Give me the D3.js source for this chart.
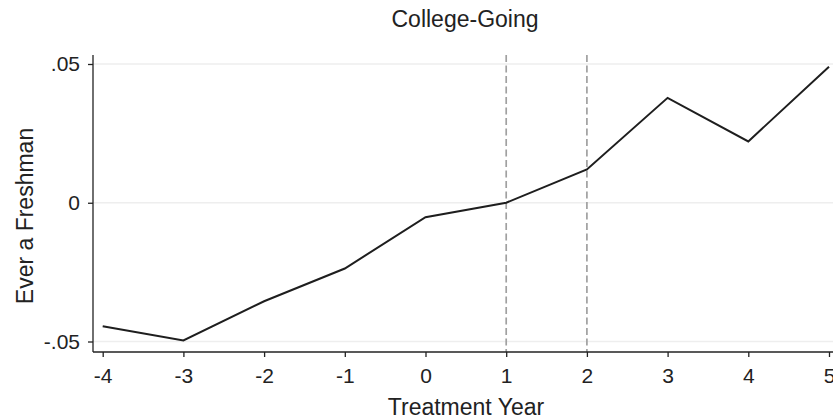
<!DOCTYPE html>
<html>
<head>
<meta charset="utf-8">
<script src="https://cdn.jsdelivr.net/npm/d3@7"></script>
<style>
  html, body { margin: 0; padding: 0; background: #fff; }
  svg { display: block; font-family: "Liberation Sans", Arial, Helvetica, sans-serif; }
</style>
</head>
<body>
<svg id="chart" width="833" height="420"></svg>
<script>
// Event-study estimates by year relative to treatment
const years = [-4, -3, -2, -1, 0, 1, 2, 3, 4, 5];
const estimates = [-0.0445, -0.0496, -0.0355, -0.0237, -0.0052, 0.0, 0.0120, 0.0378, 0.0221, 0.0490];
const xTicks = [-4, -3, -2, -1, 0, 1, 2, 3, 4, 5];
const yTicks = [-0.05, 0, 0.05];
const yTickLabels = ["-.05", "0", ".05"];
const markerYears = [1, 2];

const title = "College-Going";
const xTitle = "Treatment Year";
const yTitle = "Ever a Freshman";

const svg = d3.select("#chart");

const plotLeft = 93, plotRight = 833, plotTop = 55, plotBottom = 352;

const x = d3.scaleLinear().domain([-4, 5]).range([102.7, 829]);
const y = d3.scaleLinear().domain([-0.05, 0.05]).range([341.5, 64]);

// horizontal grid
svg.append("g")
  .selectAll("line")
  .data(yTicks)
  .join("line")
  .attr("x1", plotLeft).attr("x2", plotRight)
  .attr("y1", d => y(d)).attr("y2", d => y(d))
  .attr("stroke", "#eeeeee")
  .attr("stroke-width", 1.5);

// vertical reference lines
svg.append("g")
  .selectAll("line")
  .data(markerYears)
  .join("line")
  .attr("x1", d => x(d)).attr("x2", d => x(d))
  .attr("y1", plotTop).attr("y2", plotBottom)
  .attr("stroke", "#a0a0a0")
  .attr("stroke-width", 1.7)
  .attr("stroke-dasharray", "7,3.5");

// axes
const yAxis = d3.axisLeft(y)
  .tickValues(yTicks)
  .tickFormat((d, i) => yTickLabels[i])
  .tickSize(5)
  .tickPadding(8);
const gy = svg.append("g").attr("transform", `translate(${plotLeft},0)`).call(yAxis);
gy.select(".domain").attr("d", `M0,${plotTop}V${plotBottom}`);

const xAxis = d3.axisBottom(x)
  .tickValues(xTicks)
  .tickFormat(d => String(d))
  .tickSize(5)
  .tickPadding(11);
const gx = svg.append("g").attr("transform", `translate(0,${plotBottom})`).call(xAxis);
gx.select(".domain").attr("d", `M${plotLeft},0H${plotRight}`);

[gx, gy].forEach(g => {
  g.selectAll(".domain").attr("stroke", "#222").attr("stroke-width", 1.3);
  g.selectAll(".tick line").attr("stroke", "#222").attr("stroke-width", 1.3);
  g.selectAll(".tick text").attr("fill", "#222").attr("font-size", 21)
    .attr("font-family", "\"Liberation Sans\", Arial, sans-serif");
});

// estimate line
const line = d3.line().x((d, i) => x(years[i])).y(d => y(d));
svg.append("path")
  .datum(estimates)
  .attr("d", line)
  .attr("fill", "none")
  .attr("stroke", "#1e1e1e")
  .attr("stroke-width", 2)
  .attr("stroke-linejoin", "miter");

// titles
svg.append("text")
  .attr("x", 465).attr("y", 27)
  .attr("text-anchor", "middle")
  .attr("font-size", 23)
  .attr("fill", "#222")
  .text(title);

svg.append("text")
  .attr("x", 466).attr("y", 415)
  .attr("text-anchor", "middle")
  .attr("font-size", 23)
  .attr("fill", "#222")
  .text(xTitle);

svg.append("text")
  .attr("transform", "translate(33,216) rotate(-90)")
  .attr("text-anchor", "middle")
  .attr("font-size", 23)
  .attr("fill", "#222")
  .text(yTitle);
</script>
</body>
</html>
